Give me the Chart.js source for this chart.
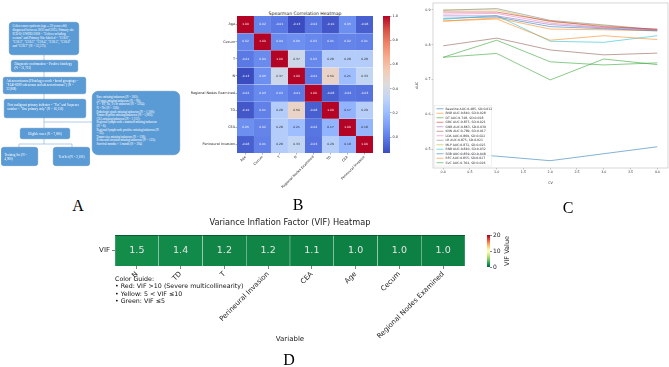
<!DOCTYPE html>
<html><head><meta charset="utf-8">
<script src="https://cdn.jsdelivr.net/npm/chart.js@4.4.0/dist/chart.umd.min.js"></script>
<style>
html,body{margin:0;padding:0;background:#fff;}
body{width:669px;height:367px;position:relative;overflow:hidden;font-family:"DejaVu Sans",sans-serif;}
canvas{position:absolute;}
.lbl{position:absolute;font-family:"Liberation Serif",serif;font-size:16px;color:#000;transform:translate(-50%,-50%);}
.txt{position:absolute;white-space:nowrap;color:#222;}
#flow{position:absolute;left:0;top:0;width:400px;height:360px;transform:scale(0.5);transform-origin:0 0;font-family:"Liberation Serif",serif;}
.box{position:absolute;background:#5b9bd5;border:1px solid #4a86c0;color:#fff;box-sizing:border-box;border-radius:7px;font-size:6.4px;line-height:8.2px;padding:2px 6px;overflow:hidden;}
</style></head>
<body>
<!-- Panel A: flowchart -->
<div id="flow">
<svg width="400" height="360" style="position:absolute;left:0;top:0">
<g stroke="#8fb4de" stroke-width="1.4" fill="none">
<line x1="88" y1="110" x2="88" y2="256"/>
<line x1="88" y1="244" x2="184" y2="244"/>
<line x1="88" y1="278" x2="88" y2="288"/>
<line x1="38" y1="288" x2="144" y2="288"/>
<line x1="38" y1="288" x2="38" y2="294"/>
<line x1="144" y1="288" x2="144" y2="294"/>
</g></svg>
<div class="box" style="left:18px;top:44px;width:140px;height:66px;">Colon cancer patients (age ≥ 20 years old) diagnosed between 2010 and 2015; Primary site ICD-O-3/WHO 2008 = "Colon excluding rectum" and Primary Site-labeled = "C18.0", "C18.2", "C18.3", "C18.4", "C18.5", "C18.6" and "C18.7" (N = 33,375)</div>
<div class="box" style="left:22px;top:120px;width:134px;height:24px;border-radius:4px;">Diagnostic confirmation = Positive histology (N = 31,723)</div>
<div class="box" style="left:6px;top:154px;width:166px;height:34px;border-radius:4px;">Adenocarcinoma (Histology recode - broad groupings = "8140-8389: adenomas and adenocarcinomas") (N = 22,888)</div>
<div class="box" style="left:8px;top:198px;width:164px;height:38px;border-radius:4px;padding-top:6px;">First malignant primary indicator = "Yes" and Sequence number = "One primary only" (N = 16,150)</div>
<div class="box" style="left:40px;top:256px;width:100px;height:22px;border-radius:4px;text-align:center;padding-top:6px;">Eligible cases (N = 7,000)</div>
<div class="box" style="left:2px;top:294px;width:74px;height:38px;border-radius:6px;padding-top:10px;">Training Set (N = 4,900)</div>
<div class="box" style="left:106px;top:294px;width:74px;height:38px;border-radius:6px;padding-top:14px;text-align:center;">Test Set (N = 2,100)</div>
<div class="box" style="left:184px;top:182px;width:176px;height:128px;border-radius:12px;font-size:6px;line-height:7.2px;padding:8px 8px;">Race missing/unknown (N = 203);<br>AJ stage missing/unknown (N = 96);<br>T = T0, Tis, Tx or unknown (N = 1204);<br>N = Nx (N = 358);<br>Pathologic grade missing/unknown (N = 1,500);<br>Tumor deposits missing/unknown (N = 1,003);<br>CEA missing/unknown (N = 1,212);<br>Regional lymph node examined missing/unknown<br>(N = 8);<br>Regional lymph node positive missing/unknown (N<br>= 55);<br>Tumor size missing/unknown (N = 158);<br>Perineural invasion missing/unknown (N = 123);<br>Survival months &lt; 1 month (N = 394)</div>
</div>
<div class="lbl" style="left:78px;top:206px;">A</div>

<!-- Panel B -->
<div class="txt" style="left:305px;top:13px;font-size:4.6px;transform:translate(-50%,-50%);">Spearman Correlation Heatmap</div>
<canvas id="cB" width="190" height="200" style="left:185px;top:0px"></canvas>
<canvas id="cBbar" width="45" height="200" style="left:375px;top:0px"></canvas>
<div class="lbl" style="left:298px;top:205px;">B</div>

<!-- Panel C -->
<canvas id="cC" width="254" height="185" style="left:415px;top:0px"></canvas>
<div class="lbl" style="left:568px;top:208px;">C</div>

<!-- Panel D -->
<div class="txt" style="left:290px;top:222px;font-size:8.2px;transform:translate(-50%,-50%);">Variance Inflation Factor (VIF) Heatmap</div>
<canvas id="cD" width="410" height="142" style="left:60px;top:225px"></canvas>
<canvas id="cDbar" width="42" height="60" style="left:470px;top:225px"></canvas>
<div class="txt" style="left:507px;top:251px;font-size:6.5px;transform:translate(-50%,-50%) rotate(-90deg);">VIF Value</div>
<div class="txt" style="left:115px;top:275px;font-size:6.3px;line-height:7.3px;color:#111;">Color Guide:<br>• Red: VIF &gt;10 (Severe multicollinearity)<br>• Yellow: 5 &lt; VIF ≤10<br>• Green: VIF ≤5</div>
<div class="lbl" style="left:289px;top:360px;">D</div>

<script>
// ---------- DATA ----------
const corrVars = ['Age','Cecum','T','N','Regional Nodes Examined','TD','CEA','Perineural Invasion'];
const corrAge      = [ 1.00, 0.02,-0.01,-0.13,-0.02,-0.10, 0.05,-0.08];
const corrCecum    = [ 0.02, 1.00, 0.04, 0.05, 0.03, 0.01, 0.02, 0.01];
const corrT        = [-0.01, 0.04, 1.00, 0.37, 0.03, 0.28, 0.28, 0.28];
const corrN        = [-0.13, 0.05, 0.37, 1.00,-0.01, 0.50, 0.21, 0.33];
const corrRNE      = [-0.02, 0.03, 0.03,-0.01, 1.00,-0.08,-0.02,-0.03];
const corrTD       = [-0.10, 0.01, 0.28, 0.50,-0.08, 1.00, 0.17, 0.29];
const corrCEA      = [ 0.05, 0.02, 0.28, 0.21,-0.02, 0.17, 1.00, 0.18];
const corrPI       = [-0.08, 0.01, 0.28, 0.33,-0.03, 0.29, 0.18, 1.00];
const corrRows = [corrAge, corrCecum, corrT, corrN, corrRNE, corrTD, corrCEA, corrPI];
const corrMin = -0.13, corrMax = 1.0;
const corrBarTicks = [0.0, 0.2, 0.4, 0.6, 0.8, 1.0];

const cvFolds = [0, 1, 2, 3, 4];
const aucBaseline = [0.490, 0.480, 0.467, 0.487, 0.507];
const aucBNB = [0.868, 0.874, 0.813, 0.826, 0.815];
const aucDT  = [0.764, 0.775, 0.699, 0.759, 0.743];
const aucGBC = [0.894, 0.894, 0.868, 0.852, 0.845];
const aucGNB = [0.883, 0.883, 0.858, 0.848, 0.842];
const aucKNN = [0.797, 0.819, 0.785, 0.771, 0.776];
const aucLDA = [0.888, 0.890, 0.862, 0.850, 0.844];
const aucLR  = [0.899, 0.904, 0.870, 0.857, 0.843];
const aucMLP = [0.900, 0.900, 0.866, 0.855, 0.842];
const aucRNB = [0.873, 0.884, 0.810, 0.807, 0.826];
const aucSGB = [0.876, 0.880, 0.852, 0.846, 0.840];
const aucRFC = [0.868, 0.877, 0.845, 0.843, 0.840];
const aucSVC = [0.764, 0.813, 0.751, 0.742, 0.748];
const modelLabels = ['Baseline AUC:0.485, SD:0.012','BNB AUC:0.840, SD:0.028','DT AUC:0.748, SD:0.028','GBC AUC:0.873, SD:0.021','GNB AUC:0.863, SD:0.030','KNN AUC:0.789, SD:0.017','LDA AUC:0.869, SD:0.022','LR AUC:0.875, SD:0.021','MLP AUC:0.872, SD:0.025','RNB AUC:0.840, SD:0.032','SGB AUC:0.859, SD:0.048','RFC AUC:0.855, SD:0.027','SVC AUC:0.764, SD:0.026'];
const modelSeries = [aucBaseline, aucBNB, aucDT, aucGBC, aucGNB, aucKNN, aucLDA, aucLR, aucMLP, aucRNB, aucSGB, aucRFC, aucSVC];
const aucTicks = [0.5, 0.6, 0.7, 0.8, 0.9];

const vifVars = ['N','TD','T','Perineural Invasion','CEA','Age','Cecum','Regional Nodes Examined'];
const vifValues = [1.5, 1.4, 1.2, 1.2, 1.1, 1.0, 1.0, 1.0];
const vifBarTicks = [0, 10, 20];

// ---------- colour maps ----------
function hex2rgb(h){return [parseInt(h.slice(1,3),16),parseInt(h.slice(3,5),16),parseInt(h.slice(5,7),16)];}
function makeMap(stops){const s=stops.map(hex2rgb);return function(t){t=Math.max(0,Math.min(1,t));const p=t*(s.length-1);const i=Math.min(Math.floor(p),s.length-2);const f=p-i;const c=s[i].map((v,k)=>Math.round(v+(s[i+1][k]-v)*f));return 'rgb('+c.join(',')+')';};}
const coolStops = ['#3b4cc0','#5977e3','#7b9ff9','#9ebeff','#c0d4f5','#dddcdc','#f2cbb7','#f7ac8e','#ee8468','#d65244','#b40426'];
const coolwarm = makeMap(coolStops);
const rdylgnStops = ['#006837','#1a9850','#66bd63','#a6d96a','#d9ef8b','#ffffbf','#fee08b','#fdae61','#f46d43','#d73027','#a50026'];
const rdylgn_r = makeMap(rdylgnStops);
function lum(c){const m=c.match(/\d+/g).map(Number);return 0.299*m[0]+0.587*m[1]+0.114*m[2];}

Chart.defaults.animation = false;
Chart.defaults.font.family = '"DejaVu Sans", sans-serif';
Chart.defaults.plugins.legend.display = false;
Chart.defaults.plugins.tooltip.enabled = false;

function gradFill(stops){return function(ctx){const ch=ctx.chart;const a=ch.chartArea;if(!a)return stops[0];const g=ch.ctx.createLinearGradient(0,a.bottom,0,a.top);stops.forEach((s,i)=>g.addColorStop(i/(stops.length-1),s));return g;};}

// ---------- Panel B heatmap ----------
const cellText = {id:'cellText', afterDatasetsDraw(chart){const c=chart.ctx;c.save();c.font='2.9px "DejaVu Sans"';c.textAlign='center';c.textBaseline='middle';
  chart.data.datasets.forEach((ds,i)=>{chart.getDatasetMeta(i).data.forEach((el,j)=>{const col=ds.backgroundColor[j];c.fillStyle=lum(col)<150?'#fff':'#222';c.fillText(corrRows[i][j].toFixed(2),el.x,(el.y+el.base)/2);});});c.restore();}};
new Chart(document.getElementById('cB'),{
  type:'bar',
  data:{labels:corrVars,datasets:corrRows.map((row)=>({data:row.map(()=>1),backgroundColor:row.map(v=>coolwarm((v-corrMin)/(corrMax-corrMin))),borderColor:'rgba(255,255,255,0.35)',borderWidth:0.3,barPercentage:1,categoryPercentage:1,stack:'s'}))},
  options:{responsive:false,devicePixelRatio:1,layout:{padding:{top:16,right:2,left:0,bottom:0}},
    scales:{
      x:{stacked:true,grid:{drawOnChartArea:false,offset:false,tickLength:1.5,color:'#333',lineWidth:0.4},border:{display:false},
         ticks:{font:{size:3.4},color:'#222',maxRotation:45,minRotation:45,padding:0.5,autoSkip:false},afterFit:s=>{s.height=47;}},
      y:{stacked:true,min:0,max:8,reverse:true,afterBuildTicks:s=>{s.ticks=corrVars.map((_,i)=>({value:i+0.5}));},
         ticks:{callback:v=>corrVars[Math.floor(v)],font:{size:3.4},color:'#222',padding:0.5,autoSkip:false},
         grid:{drawOnChartArea:false,tickLength:1.5,color:'#333',lineWidth:0.4},border:{display:false},afterFit:s=>{s.width=52;}}
    }},
  plugins:[cellText]
});
new Chart(document.getElementById('cBbar'),{
  type:'bar',
  data:{labels:[''],datasets:[{data:[[corrMin,corrMax]],backgroundColor:gradFill(coolStops),barPercentage:1,categoryPercentage:1,borderWidth:0}]},
  options:{responsive:false,devicePixelRatio:1,layout:{padding:{top:16,left:8,right:0,bottom:47}},
    scales:{x:{display:false},
      y:{position:'right',min:corrMin,max:corrMax,afterBuildTicks:s=>{s.ticks=corrBarTicks.map(v=>({value:v}));},
         ticks:{callback:v=>v.toFixed(1),font:{size:3.4},color:'#222',padding:1},grid:{drawOnChartArea:false,tickLength:1.5,color:'#333',lineWidth:0.4},border:{display:false},afterFit:s=>{s.width=30;}}}}
});

// ---------- Panel C lines ----------
const tab10 = ['31,119,180','255,127,14','44,160,44','214,39,40','148,103,189','140,86,75','227,119,194','127,127,127','188,189,34','23,190,207'];
const frameAndLegend = {id:'frameAndLegend', afterDatasetsDraw(chart){const c=chart.ctx;const a=chart.chartArea;c.save();
  c.strokeStyle='#bbb';c.lineWidth=0.6;c.strokeRect(a.left,a.top,a.right-a.left,a.bottom-a.top);
  const n=chart.data.datasets.length, h=4.5, w=57, x0=a.left+1.5, y0=a.bottom-2-n*h-2;
  c.fillStyle='rgba(255,255,255,0.85)';c.strokeStyle='#ddd';c.lineWidth=0.4;c.fillRect(x0,y0,w,n*h+2);c.strokeRect(x0,y0,w,n*h+2);
  c.font='3.1px "DejaVu Sans"';c.textBaseline='middle';
  chart.data.datasets.forEach((ds,i)=>{const y=y0+1+h*(i+0.5);c.strokeStyle=ds.borderColor;c.lineWidth=0.8;c.beginPath();c.moveTo(x0+2,y);c.lineTo(x0+9,y);c.stroke();c.fillStyle='#333';c.fillText(ds.label,x0+11,y);});
  c.restore();}};
new Chart(document.getElementById('cC'),{
  type:'line',
  data:{datasets:modelSeries.map((s,i)=>({label:modelLabels[i],data:cvFolds.map((x,j)=>({x:x,y:s[j]})),borderColor:'rgba('+tab10[i%10]+',0.7)',borderWidth:0.8,pointRadius:0,fill:false,tension:0}))},
  options:{responsive:false,devicePixelRatio:1,layout:{padding:{top:2,right:1,left:0,bottom:0}},
    scales:{
      x:{type:'linear',min:-0.19,max:4.2,afterBuildTicks:s=>{s.ticks=[0,0.5,1,1.5,2,2.5,3,3.5,4].map(v=>({value:v}));},
         ticks:{callback:v=>v.toFixed(1),font:{size:3.3},color:'#333',padding:1,maxRotation:0},grid:{drawOnChartArea:false,tickLength:1.5,color:'#666',lineWidth:0.4},border:{display:false},
         title:{display:true,text:'CV',font:{size:3.4},color:'#333',padding:0},afterFit:s=>{s.height=17;}},
      y:{min:0.446,max:0.92,afterBuildTicks:s=>{s.ticks=aucTicks.map(v=>({value:v}));},
         ticks:{callback:v=>v.toFixed(1),font:{size:3.3},color:'#333',padding:1},grid:{drawOnChartArea:false,tickLength:1.5,color:'#666',lineWidth:0.4},border:{display:false},
         title:{display:true,text:'AUC',font:{size:3.4},color:'#333',padding:0},afterFit:s=>{s.width=18;}}
    }},
  plugins:[frameAndLegend]
});

// ---------- Panel D VIF ----------
const vifText = {id:'vifText', afterDatasetsDraw(chart){const c=chart.ctx;c.save();c.font='9.5px "DejaVu Sans"';c.fillStyle='#e6e6e6';c.textAlign='center';c.textBaseline='middle';
  chart.getDatasetMeta(0).data.forEach((el,j)=>{c.fillText(vifValues[j].toFixed(1),el.x,(el.y+el.base)/2);});
  const a=chart.chartArea;c.strokeStyle='rgba(0,60,30,0.6)';c.lineWidth=1;c.beginPath();c.moveTo(a.left,a.top+0.5);c.lineTo(a.right,a.top+0.5);c.stroke();c.restore();}};
new Chart(document.getElementById('cD'),{
  type:'bar',
  data:{labels:vifVars,datasets:[{data:vifVars.map(()=>1),backgroundColor:vifValues.map(v=>rdylgn_r(v/20)),borderColor:'rgba(230,240,235,0.7)',borderWidth:{left:0.5,right:0.5,top:0,bottom:0},borderSkipped:false,barPercentage:1,categoryPercentage:1}]},
  options:{responsive:false,devicePixelRatio:1,layout:{padding:{top:10,right:5,left:0,bottom:24}},
    scales:{
      x:{grid:{drawOnChartArea:false,offset:false,tickLength:3,color:'#333',lineWidth:0.6},border:{display:false},
         ticks:{font:{size:7},color:'#222',maxRotation:45,minRotation:45,padding:1,autoSkip:false},
         title:{display:true,text:'Variable',font:{size:7},color:'#222',padding:0},afterFit:s=>{s.height=77;}},
      y:{min:0,max:1,afterBuildTicks:s=>{s.ticks=[{value:0.5}];},ticks:{callback:()=>'VIF',font:{size:7},color:'#222',padding:2},
         grid:{drawOnChartArea:false,tickLength:3,color:'#333',lineWidth:0.6},border:{display:false},afterFit:s=>{s.width=55;}}
    }},
  plugins:[vifText]
});
new Chart(document.getElementById('cDbar'),{
  type:'bar',
  data:{labels:[''],datasets:[{data:[[0,20]],backgroundColor:gradFill(rdylgnStops),barPercentage:1,categoryPercentage:1,borderWidth:0}]},
  options:{responsive:false,devicePixelRatio:1,layout:{padding:{top:10,left:17,right:0,bottom:18}},
    scales:{x:{display:false},
      y:{position:'right',min:0,max:20,afterBuildTicks:s=>{s.ticks=vifBarTicks.map(v=>({value:v}));},
         ticks:{font:{size:6},color:'#222',padding:1},grid:{drawOnChartArea:false,tickLength:2,color:'#333',lineWidth:0.6},border:{display:false},
         afterFit:s=>{s.width=22;}}}}
});
</script>
</body></html>
